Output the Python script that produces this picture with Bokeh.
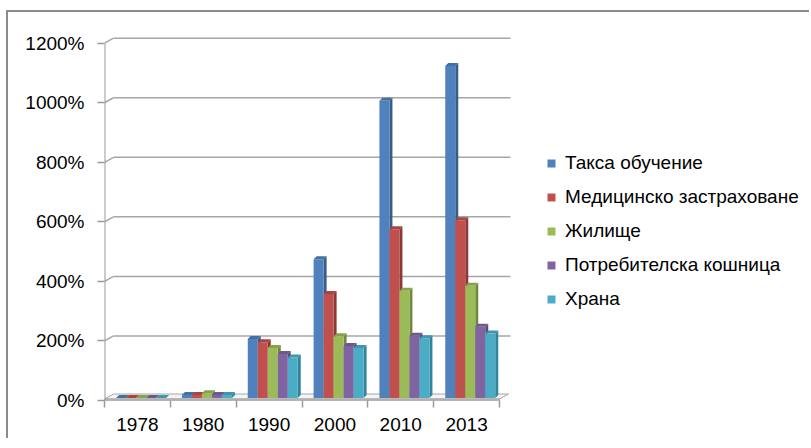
from bokeh.plotting import figure
from bokeh.models import Range1d, FixedTicker, Legend, LegendItem, ColumnDataSource
from bokeh.embed import file_html
from bokeh.resources import INLINE

# ---------------- data ----------------
years = ["1978", "1980", "1990", "2000", "2010", "2013"]
series_names = ["Такса обучение", "Медицинско застраховане", "Жилище",
                "Потребителска кошница", "Храна"]
tuition = [0, 10, 198, 466, 998, 1115]
medical = [0, 10, 187, 349, 567, 597]
housing = [0, 16, 168, 207, 360, 377]
basket = [0, 10, 148, 175, 209, 239]
food = [0, 10, 136, 168, 201, 217]
y_ticks = [0, 200, 400, 600, 800, 1000, 1200]

series_values = [tuition, medical, housing, basket, food]
colors = ["#4F81BD", "#C0504D", "#9BBB59", "#8064A2", "#4BACC6"]
side_colors = ["#385D8A", "#8C3836", "#71893F", "#5C4776", "#31859C"]
top_colors = ["#44709F", "#A74542", "#86A34C", "#6F578D", "#3F97AE"]

FONT = "Liberation Sans"
FS = "19px"
GRID = "#a6a6a6"

# ---------------- layout ----------------
W, H = 803, 428
LEFT, TOP = 96, 23
FRAME_W, FRAME_H = W - LEFT, 365
n_cat = len(years)
PXX = n_cat / 395.0          # data units per pixel (x)
PXY = 1200 / 357.3           # data units per pixel (y)
X_MAX = FRAME_W * PXX
Y_MAX = FRAME_H * PXY

p = figure(width=W, height=H, output_backend="svg", toolbar_location=None,
           x_range=Range1d(0, X_MAX), y_range=Range1d(0, Y_MAX),
           min_border_left=LEFT, min_border_top=TOP,
           min_border_bottom=H - TOP - FRAME_H, min_border_right=0)
p.outline_line_color = None
p.xgrid.visible = False
p.ygrid.visible = False
p.background_fill_color = "white"
p.border_fill_color = "white"
p.styles = {"border-top": "2px solid #8c8c8c", "border-left": "2px solid #8c8c8c",
            "margin-top": "10px", "margin-left": "6px"}

# depth geometry
WD_X, WD_Y = 9 * PXX, 5 * PXY
FT = 1.5 * PXY
BW = 10 * PXX
B0 = 11.6 * PXX
BB = 2.5 * PXY
SD_X, SD_Y = 3 * PXX, 3 * PXY

# back-wall gridlines + side-wall diagonals
gv = [v for v in y_ticks if v > 0]
p.segment(x0=[0] * len(gv), y0=gv, x1=[WD_X] * len(gv), y1=[v + WD_Y for v in gv],
          line_color=GRID, line_width=1.5)
p.segment(x0=[WD_X] * len(gv), y0=[v + WD_Y for v in gv],
          x1=[n_cat + WD_X + 2 * PXX] * len(gv), y1=[v + WD_Y for v in gv],
          line_color=GRID, line_width=1.5)

# floor slab
p.patch(x=[0, n_cat, n_cat + WD_X, WD_X], y=[FT, FT, FT + WD_Y, FT + WD_Y],
        fill_color="#f4f4f4", line_color=GRID, line_width=1)
p.quad(left=[0], right=[n_cat], bottom=[0], top=[FT], fill_color="#e6e6e6",
       line_color=GRID, line_width=1)

# front axis lines
p.segment(x0=[0], y0=[0], x1=[0], y1=[y_ticks[-1]], line_color="#9a9a9a", line_width=2)
p.segment(x0=[0], y0=[0], x1=[n_cat], y1=[0], line_color="#9a9a9a", line_width=2)

# bar sides and tops (painter order: left to right)
pxs, pys, pcols = [], [], []
for i in range(n_cat):
    for j, vals in enumerate(series_values):
        l = i + B0 + j * BW
        r = l + BW
        b = BB
        t = BB + vals[i]
        pxs.append([r, r + SD_X, r + SD_X, r])
        pys.append([b, b + SD_Y, t + SD_Y, t])
        pcols.append(side_colors[j])
        pxs.append([l, r, r + SD_X, l + SD_X])
        pys.append([t, t, t + SD_Y, t + SD_Y])
        pcols.append(top_colors[j])
p.patches(xs=pxs, ys=pys, fill_color=pcols, line_color=None)

# bar fronts
renderers = []
for j, vals in enumerate(series_values):
    lefts = [i + B0 + j * BW for i in range(n_cat)]
    src = ColumnDataSource(dict(left=lefts, right=[x + BW for x in lefts],
                                bottom=[BB] * n_cat, top=[BB + v for v in vals]))
    r = p.quad(left="left", right="right", bottom="bottom", top="top", source=src,
               fill_color=colors[j], line_color=None)
    renderers.append(r)

# axes
ya = p.yaxis[0]
ya.ticker = FixedTicker(ticks=y_ticks)
ya.major_label_overrides = {v: f"{v}%" for v in y_ticks}
ya.axis_line_color = None
ya.major_tick_out = 7
ya.major_tick_in = 0
ya.major_tick_line_color = "#9a9a9a"
ya.major_tick_line_width = 1.5
ya.minor_tick_line_color = None
ya.major_label_standoff = 13
ya.major_label_text_font = FONT
ya.major_label_text_font_size = FS
ya.major_label_text_color = "black"

xa = p.xaxis[0]
centers = [i + 0.5 for i in range(n_cat)]
xa.ticker = FixedTicker(ticks=centers, minor_ticks=list(range(n_cat + 1)))
xa.major_label_overrides = {c: y for c, y in zip(centers, years)}
xa.axis_line_color = None
xa.major_tick_line_color = None
xa.major_tick_out = 7
xa.major_tick_in = 0
xa.minor_tick_out = 7
xa.minor_tick_in = 0
xa.minor_tick_line_color = "#9a9a9a"
xa.minor_tick_line_width = 1.5
xa.major_label_standoff = 10
xa.major_label_text_font = FONT
xa.major_label_text_font_size = FS
xa.major_label_text_color = "black"

legend = Legend(items=[LegendItem(label=n, renderers=[r]) for n, r in zip(series_names, renderers)],
                location=(442, 90), orientation="vertical",
                glyph_width=10, glyph_height=10, label_standoff=9, spacing=12,
                padding=0, margin=0, border_line_color=None, background_fill_alpha=0,
                label_text_font=FONT, label_text_font_size=FS, label_height=22,
                label_text_color="black")
p.add_layout(legend)

open("out.html", "w").write(file_html(p, INLINE))
